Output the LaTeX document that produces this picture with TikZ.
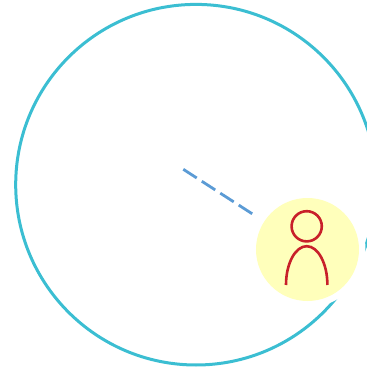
\documentclass[tikz,border=0pt]{standalone}
\usepackage{tikz}

\definecolor{rangeteal}{RGB}{59,190,210}
\definecolor{linkblue}{RGB}{91,155,213}
\definecolor{userfill}{RGB}{255,255,187}
\definecolor{userred}{RGB}{200,32,42}

\tikzset{
  userdisc/.style={circle, fill=userfill, minimum size=103pt, inner sep=0pt},
  figure/.style={userred, line width=2.6pt},
  link/.style={linkblue, line width=2.8pt, dash pattern=on 16pt off 6pt}
}

\begin{document}
\begin{tikzpicture}[x=1pt,y=1pt]
    \useasboundingbox (0,0) rectangle (367,368);
    % coverage circle
    \draw[rangeteal, line width=3pt] (196,183.3) circle (180.3);
    % user with white ring
    \fill[white] (307.5,118.5) circle (58);
    \node[userdisc] (user) at (307.5,118.5) {};
    \draw[figure] (306.7,141.7) circle (15.1);
    \draw[figure] (286,83) arc[start angle=180, end angle=0, x radius=20.7, y radius=38.8];
    % link to the user
    \coordinate (hub) at (183.3,198.7);
    \draw[link, shorten >=13.5pt] (hub) -- (user);
\end{tikzpicture}
\end{document}
